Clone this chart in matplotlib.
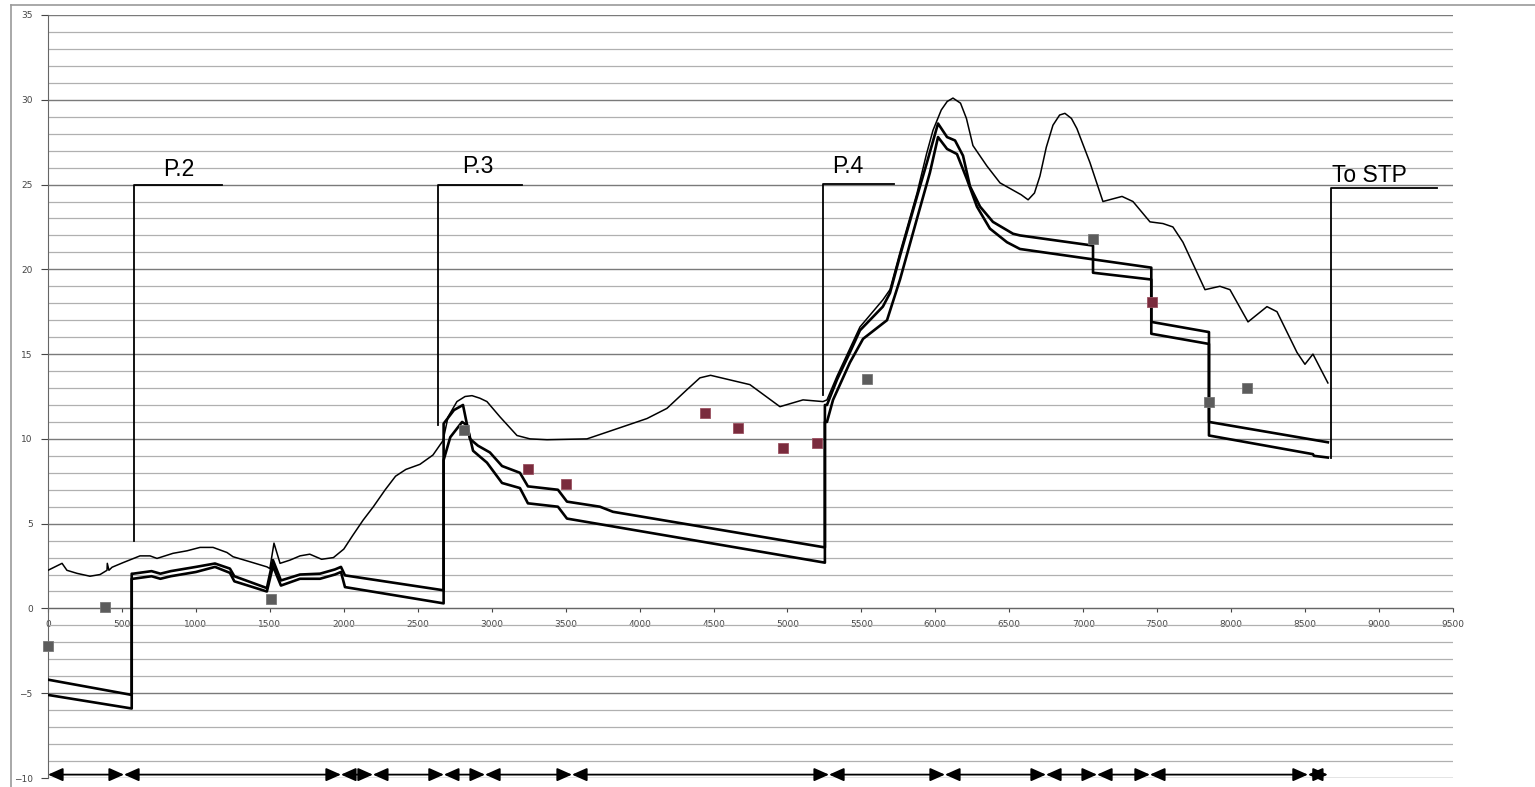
import matplotlib
matplotlib.use("Agg")
import matplotlib.pyplot as plt
from matplotlib.lines import Line2D

# chainage (x) and level (y) of the ground / upper profile
ground_x = [0, 95, 128, 196, 284, 352, 399, 401, 412, 433, 507, 622, 690, 737, 845, 940, 1028,
            1116, 1210, 1251, 1386, 1481, 1500, 1528, 1569, 1636, 1704, 1770, 1850, 1930, 2000,
            2060, 2130, 2200, 2280, 2350, 2420, 2515, 2603, 2671, 2705, 2765, 2820, 2867, 2920,
            2968, 3056, 3171, 3259, 3374, 3644, 3780, 4050, 4185, 4320, 4408, 4480, 4746, 4949,
            5105, 5240, 5267, 5335, 5490, 5645, 5693, 5761, 5876, 5940, 5984, 6040, 6080, 6119,
            6170, 6210, 6254, 6348, 6437, 6580, 6627, 6670, 6707, 6750, 6795, 6840, 6876, 6920,
            6957, 7045, 7133, 7262, 7336, 7451, 7539, 7606, 7674, 7823, 7924, 7992, 8114,
            8242, 8310, 8445, 8499, 8553, 8654]
ground_y = [2.25, 2.66, 2.25, 2.07, 1.9, 2.0, 2.25, 2.66, 2.25, 2.43, 2.7, 3.1, 3.1, 2.95, 3.25,
            3.4, 3.6, 3.6, 3.3, 3.05, 2.7, 2.45, 2.35, 3.85, 2.66, 2.85, 3.1, 3.2, 2.9, 3.0, 3.5,
            4.3, 5.2, 6.0, 7.0, 7.8, 8.2, 8.5, 9.05, 9.9, 11.3, 12.2, 12.5, 12.55, 12.4,
            12.2, 11.3, 10.2, 10.0, 9.95, 10.0, 10.4, 11.2, 11.8, 12.9, 13.6, 13.75, 13.2, 11.9,
            12.3, 12.2, 12.3, 13.7, 16.6, 18.2, 18.8, 21.0, 24.5, 26.8, 28.2, 29.4, 29.9, 30.1,
            29.8, 28.9, 27.3, 26.1, 25.1, 24.4, 24.1, 24.5, 25.5, 27.2, 28.5, 29.1, 29.2, 28.9,
            28.3, 26.3, 24.0, 24.3, 24.0, 22.8, 22.7, 22.5, 21.6, 18.8, 19.0, 18.8, 16.9,
            17.8, 17.5, 15.1, 14.4, 15.0, 13.3]

# hydraulic grade lines (two thick lines)
hgl_a_x = [0, 566, 566, 575, 700, 760, 830, 1000, 1129, 1230, 1260, 1480, 1521, 1575, 1704,
           1839, 1940, 1981, 2008, 2675, 2675, 2710, 2745, 2806, 2853, 2907, 2988, 3070, 3191,
           3245, 3448, 3509, 3732, 3820, 5253, 5253, 5267, 5335, 5422, 5490, 5645, 5693, 5761,
           5876, 5943, 6018, 6079, 6133, 6187, 6234, 6302, 6389, 6525, 6572, 7066, 7066, 7460,
           7460, 7850, 7850, 8553, 8560, 8654]
hgl_a_y = [-4.2, -5.1, 2.05, 2.05, 2.2, 2.05, 2.2, 2.45, 2.65, 2.35, 1.9, 1.2, 2.85, 1.65, 2.0,
           2.05, 2.3, 2.45, 1.95, 1.07, 10.9, 11.3, 11.7, 12.0, 10.0, 9.6, 9.2, 8.4, 8.0,
           7.2, 7.0, 6.3, 6.0, 5.7, 3.6, 12.0, 12.0, 13.5, 15.1, 16.4, 17.8, 18.6, 20.8,
           24.3, 26.3, 28.6, 27.8, 27.6, 26.7, 24.9, 23.7, 22.8, 22.1, 22.0, 21.4, 19.8, 19.4,
           16.2, 15.6, 10.2, 9.1, 9.0, 8.9]
hgl_b_x = [0, 566, 566, 575, 700, 760, 830, 1000, 1129, 1230, 1260, 1480, 1521, 1575, 1704,
           1839, 1940, 1981, 2008, 2675, 2675, 2720, 2800, 2834, 2874, 2968, 3070, 3191, 3245,
           3448, 3509, 5253, 5253, 5267, 5308, 5422, 5511, 5673, 5761, 5876, 5963, 6018, 6079,
           6146, 6214, 6281, 6369, 6484, 6572, 7460, 7460, 7850, 7850, 8654]
hgl_b_y = [-5.1, -5.9, 1.75, 1.75, 1.9, 1.75, 1.9, 2.15, 2.45, 2.1, 1.6, 1.0, 2.5, 1.35, 1.75,
           1.75, 2.0, 2.15, 1.26, 0.3, 8.75, 10.1, 11.0, 10.8, 9.3, 8.6, 7.4, 7.1, 6.2,
           6.0, 5.3, 2.7, 11.0, 11.0, 12.3, 14.5, 15.9, 17.0, 19.4, 23.0, 25.7, 27.8, 27.1,
           26.8, 25.3, 23.7, 22.4, 21.6, 21.2, 20.1, 16.9, 16.3, 11.0, 9.8]

# measured points
grey_x = [0, 385, 1508, 2810, 5537, 7066, 7850, 8110]
grey_y = [-2.2, 0.1, 0.55, 10.5, 13.55, 21.8, 12.2, 13.0]
red_x = [3245, 3502, 4442, 4665, 4970, 5197, 7462]
red_y = [8.2, 7.35, 11.55, 10.65, 9.47, 9.76, 18.05]

# pump station markers: name, chainage, bottom level, top level, end of flag
stations = ["P.2", "P.3", "P.4", "To STP"]
station_x = [581, 2637, 5240, 8675]
station_bottom = [4.0, 10.8, 12.6, 8.9]
station_top = [25.0, 25.0, 25.05, 24.8]
station_flag_end = [1176, 3205, 5720, 9391]
label_x = [778, 2799, 5301, 8682]
label_y = [25.5, 25.7, 25.7, 25.15]

# reaches shown by the double arrows along the bottom
reach_bounds = [0, 514, 1981, 2197, 2677, 2955, 3543, 5281, 6065, 6748, 7093, 7451, 8519, 8654]

fig = plt.figure(figsize=(15.35, 7.87), dpi=100)
ax = fig.add_axes([48 / 1535, 9 / 787, 1405 / 1535, 763 / 787])

ax.set_xlim(0, 9500)
ax.set_ylim(-10, 35)
ax.set_xticks(range(0, 9501, 500))
ax.set_yticks(range(-10, 36, 5))
ax.set_yticks(range(-10, 36, 1), minor=True)
ax.grid(axis="y", which="major", color="#7a7a7a", lw=1.0)
ax.grid(axis="y", which="minor", color="#b0b0b0", lw=0.9)
ax.set_axisbelow(True)

for side in ["top", "right"]:
    ax.spines[side].set_visible(False)
ax.spines["bottom"].set_position(("data", 0))
ax.spines["bottom"].set_color("#666666")
ax.spines["left"].set_color("#666666")
ax.tick_params(axis="x", which="major", length=3, pad=5, labelsize=6.5, colors="#444444")
ax.tick_params(axis="y", which="major", length=5, pad=6, labelsize=6.5, colors="#444444")
ax.tick_params(axis="y", which="minor", length=0)

ax.plot(ground_x, ground_y, color="black", lw=1.1, zorder=3)
ax.plot(hgl_a_x, hgl_a_y, color="black", lw=1.9, zorder=3)
ax.plot(hgl_b_x, hgl_b_y, color="black", lw=1.9, zorder=3)

ax.plot(grey_x, grey_y, ls="none", marker="s", ms=6.5, mfc="#5c5c5c", mec="#777777",
        mew=0.6, zorder=4, clip_on=False)
ax.plot(red_x, red_y, ls="none", marker="s", ms=6.5, mfc="#7a2b3d", mec="#9a5060",
        mew=0.6, zorder=4)

for name, sx, sb, st, fe, lx, ly in zip(stations, station_x, station_bottom, station_top,
                                         station_flag_end, label_x, label_y):
    ax.plot([sx, sx, fe], [sb, st, st], color="black", lw=1.3, zorder=3)
    ax.text(lx, ly, name, fontsize=16.5, family="Liberation Sans", ha="left", va="baseline")

for x0, x1 in zip(reach_bounds[:-1], reach_bounds[1:]):
    ax.annotate("", xy=(x1, -9.8), xytext=(x0, -9.8),
                arrowprops=dict(arrowstyle="<|-|>,head_length=0.45,head_width=0.2",
                                color="black", lw=1.3, mutation_scale=20,
                                shrinkA=0, shrinkB=0),
                annotation_clip=False, zorder=5)

# outer frame of the original sheet
fig.add_artist(Line2D([11 / 1535, 11 / 1535], [0, 1 - 5 / 787], transform=fig.transFigure,
                      color="#9a9a9a", lw=1.2))
fig.add_artist(Line2D([11 / 1535, 1], [1 - 5 / 787, 1 - 5 / 787], transform=fig.transFigure,
                      color="#9a9a9a", lw=1.2))

fig.savefig("out.png", dpi=100)
